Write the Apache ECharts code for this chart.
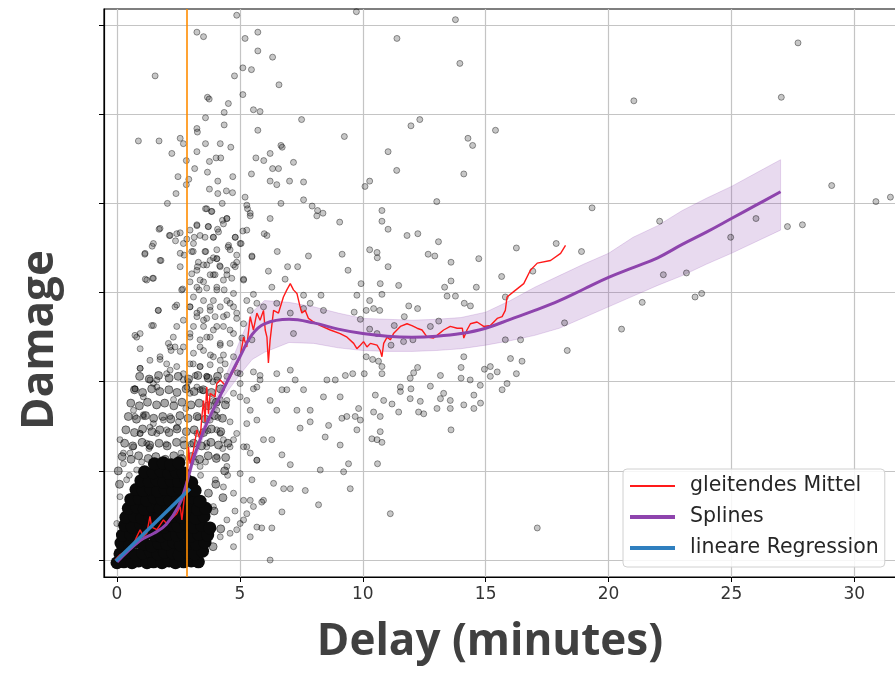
<!DOCTYPE html>
<html>
<head>
<meta charset="utf-8">
<title>Damage vs Delay</title>
<script src="https://cdn.jsdelivr.net/npm/echarts@6.0.0/dist/echarts.min.js"></script>
<style>
  html, body { margin: 0; padding: 0; background: #fff; }
  #chart { width: 895px; height: 683px; }
</style>
</head>
<body>
<div id="chart"></div>
<script>
// tick values
const delayTicks = [0, 5, 10, 15, 20, 25, 30]
const damageTicks = [0, 1, 2, 3, 4, 5, 6]
const cutoffDelay = 2.83

const pointsUpper = [
  [4.87,6.11],[3.25,5.92],[3.52,5.87],[5.21,5.85],[5.73,5.92],[5.73,5.71],[6.33,5.64],[1.55,5.43],[4.78,5.43],[5.12,5.52],
  [5.47,5.50],[6.59,5.33],[3.68,5.19],[3.75,5.17],[4.53,5.12],[5.12,5.22],[4.36,5.02],[5.55,5.05],[5.82,5.03],[3.60,4.96],
  [7.51,4.94],[3.25,4.84],[3.27,4.80],[4.36,4.88],[5.73,4.82],[9.25,4.75],[0.87,4.70],[1.71,4.70],[2.57,4.73],[2.70,4.67],
  [3.60,4.67],[4.20,4.67],[4.63,4.63],[6.67,4.65],[6.72,4.63],[2.23,4.56],[3.25,4.58],[6.23,4.56],[4.03,4.51],[4.22,4.51],
  [5.65,4.51],[5.97,4.48],[7.18,4.46],[2.82,4.48],[3.76,4.47],[11.03,4.58],[3.16,4.39],[3.68,4.35],[6.33,4.39],[6.57,4.39],
  [5.47,4.33],[2.48,4.30],[2.92,4.27],[4.71,4.30],[4.10,4.25],[6.23,4.25],[6.50,4.21],[7.02,4.25],[7.59,4.24],[10.28,4.25],
  [10.09,4.19],[2.82,4.21],[3.76,4.16],[4.45,4.14],[4.70,4.12],[4.10,4.11],[2.40,4.11],[5.21,4.07],[7.59,4.04],[2.05,4.00],
  [3.60,3.94],[3.84,3.91],[4.28,4.00],[5.28,3.98],[5.31,3.94],[6.67,4.00],[7.94,3.97],[8.16,3.92],[8.38,3.89],[8.13,3.86],
  [5.42,3.86],[6.23,3.83],[9.06,3.79],[10.78,3.92],[10.78,3.80],[11.03,3.71],[4.29,3.81],[4.47,3.83],[3.25,3.75],[3.71,3.74],
  [4.09,3.71],[1.71,3.71],[2.13,3.64],[2.57,3.67],[2.97,3.70],[3.14,3.62],[3.58,3.62],[3.92,3.62],[4.81,3.62],[5.12,3.69],
  [5.99,3.66],[6.10,3.64],[2.38,3.58],[2.84,3.60],[1.43,3.52],[3.10,3.46],[3.61,3.46],[4.52,3.51],[4.60,3.48],[5.05,3.55],
  [6.52,3.46],[1.13,3.43],[1.79,3.36],[2.73,3.42],[3.92,3.39],[4.06,3.38],[4.87,3.42],[5.49,3.41],[7.79,3.41],[9.16,3.43],
  [10.28,3.48],[10.58,3.45],[10.59,3.39],[2.57,3.29],[3.27,3.29],[3.65,3.31],[4.18,3.30],[4.81,3.29],[6.16,3.24],[6.94,3.29],
  [7.35,3.29],[9.40,3.25],[11.03,3.29],[1.15,3.15],[1.45,3.16],[3.04,3.21],[3.92,3.20],[3.52,3.12],[4.47,3.20],[5.15,3.15],
  [6.84,3.15],[9.93,3.10],[10.71,3.10],[2.67,3.04],[3.34,3.03],[4.06,3.06],[4.36,3.03],[6.30,3.06],[5.55,2.98],[7.59,2.97],
  [8.30,2.97],[9.76,2.97],[10.78,2.98],[9.74,6.15]
]

// the crowded column just right of the cut-off
const pointsColumn = [
  [3.65,3.94],[3.86,3.91],[4.33,3.77],[4.47,3.83],[3.25,3.76],[3.72,3.74],[4.13,3.68],[3.38,3.64],[3.92,3.62],[4.81,3.62],
  [3.11,3.55],[3.58,3.46],[4.06,3.48],[4.54,3.53],[5.01,3.55],[3.04,3.46],[3.31,3.34],[3.79,3.36],[4.06,3.38],[3.52,3.31],
  [4.20,3.29],[4.74,3.31],[4.47,3.25],[4.87,3.34],[3.25,3.25],[3.79,3.20],[3.99,3.20],[3.38,3.14],[4.33,3.14],[4.67,3.16],
  [2.97,3.12],[3.25,3.06],[3.65,3.05],[4.06,3.03],[4.74,2.99],[2.63,3.03],[3.11,2.95],[3.52,2.91],[3.92,2.91],[4.47,2.91],
  [2.97,2.84],[3.38,2.80],[3.79,2.84],[4.20,2.84],[4.74,2.84],[3.25,2.73],[3.65,2.71],[3.99,2.73],[4.47,2.75],[4.87,2.71],
  [2.70,2.69],[3.11,2.62],[3.52,2.62],[3.92,2.58],[4.33,2.62],[4.74,2.54],[2.97,2.50],[3.38,2.47],[3.79,2.50],[4.20,2.41],
  [4.60,2.43],[2.70,2.39],[3.11,2.32],[3.52,2.35],[3.92,2.28],[4.33,2.30],[4.74,2.28],[2.97,2.20],[3.38,2.17],[3.79,2.19],
  [4.20,2.13],[2.70,2.09],[3.18,2.07],[3.65,2.06],[4.06,2.02],[2.84,1.94],[3.38,1.91],[2.16,2.39],[2.29,2.50],[2.02,2.09],
  [2.43,2.62],[2.36,2.84],[2.57,3.44],[2.70,3.55],[2.43,3.66],[2.16,3.64],[1.75,3.72],[1.48,3.55],[1.75,3.36],[1.14,3.44],
  [1.21,3.14],[1.48,3.16],[1.68,2.80],[1.48,2.63],[0.80,2.50],[0.94,2.37],[1.75,2.28],[2.02,2.20],[0.94,2.15],[1.34,2.02],
  [0.73,1.92],[1.62,1.94],[5.28,3.70],[5.42,3.89],[5.49,3.40],[5.15,3.14],[5.28,2.91],[5.69,2.88],[5.49,2.47],[5.55,2.11],
  [5.82,2.07],[5.01,2.09]
]

const pointsMiddle = [
  [2.43,2.86],[1.68,2.80],[1.41,2.63],[0.94,2.54],[0.73,2.52],[2.09,2.43],[2.36,2.39],[2.57,2.34],[2.97,2.84],[3.25,2.77],
  [3.52,2.69],[3.79,2.80],[4.06,2.62],[4.33,2.73],[4.60,2.88],[4.87,2.77],[5.15,2.65],[5.42,2.80],[4.60,2.58],[3.65,2.50],
  [2.97,2.54],[3.38,2.39],[4.20,2.43],[5.08,2.49],[5.96,2.84],[6.50,2.88],[7.05,2.77],[7.59,2.82],[8.40,2.80],[7.18,2.54],
  [7.86,2.88],[0.94,2.15],[1.34,2.24],[1.75,2.25],[2.16,2.13],[1.62,2.02],[0.73,1.92],[1.07,1.83],[1.48,1.98],[2.43,2.17],
  [2.70,2.02],[2.97,1.87],[3.25,1.94],[3.38,2.17],[3.65,2.06],[3.92,1.79],[4.20,2.24],[4.47,2.06],[4.74,1.87],[5.01,1.98],
  [5.28,1.79],[5.55,1.92],[5.82,2.02],[6.23,1.79],[6.50,2.09],[7.05,2.13],[7.25,2.02],[7.59,1.91],[8.54,2.02],[8.88,2.02],
  [6.50,1.68],[6.91,1.91],[7.86,1.68],[8.40,1.83],[6.71,1.91],[0.73,1.61],[1.07,1.63],[1.34,1.49],[0.94,1.42],[0.26,1.20],
  [0.67,1.27],[1.21,1.31],[1.62,1.42],[1.89,1.57],[2.16,1.61],[2.43,1.49],[2.70,1.35],[3.25,1.42],[3.65,1.31],[4.06,1.46],
  [4.33,1.35],[4.60,1.27],[4.87,1.42],[5.15,1.27],[5.42,1.20],[5.69,1.12],[5.96,1.35],[6.30,1.35],[6.71,1.18],[7.05,1.07],
  [7.45,1.48],[7.86,1.55],[8.27,1.01],[8.47,1.38],[8.61,1.51],[7.32,1.68],[6.37,0.86],[6.78,0.80],[7.05,0.80],[7.66,0.78],
  [5.96,0.67],[5.42,0.67],[5.89,0.65],[5.28,0.52],[6.71,0.54],[5.69,0.37],[5.89,0.36],[6.30,0.36],[8.20,0.62],[6.23,0.00],
  [4.60,0.30],[4.87,0.34],[5.15,0.45],
  [3.79,1.57],[4.06,1.68],[4.47,1.79],[5.01,1.83],[5.42,1.68],[5.69,1.57],[4.20,1.42],[4.74,1.35],[5.28,1.27],[5.69,1.12],
  [4.06,1.16],[4.47,1.05],[5.01,0.97],[5.49,0.90],[4.33,0.82],[4.74,0.75],[5.15,0.67],[5.55,0.60],[3.92,0.60],[4.47,0.45],
  [5.01,0.41],[5.42,0.26],[4.20,0.26],[4.74,0.15],[5.69,1.94],[5.28,1.53],[3.65,1.27],[3.38,1.05],[0.67,1.68],[1.07,1.61],
  [0.12,1.35],[0.53,1.20],[0.94,1.42],[1.48,1.53],[2.02,1.46],[0.26,1.08],[0.80,1.01],[1.34,1.27],[0.39,0.90],[0.12,0.71],
  [-0.01,0.41],[0.12,0.26],
  [3.00,1.30],[3.30,1.60],[3.50,1.90],[3.10,2.20],[2.80,1.70],[2.60,1.20],[3.90,2.00],[4.20,1.80],[4.40,2.20],[3.60,1.10],
  [2.30,1.80],[2.00,1.30],[1.80,1.00],[3.40,0.95],[3.70,1.45],[4.00,0.90],[4.30,1.25],[2.90,2.00],[2.20,2.35],[3.80,2.30],
  [1.00,1.10],[1.30,1.25],[0.50,0.95],[2.50,1.55],[3.20,1.10],[4.10,1.60],[4.60,1.55],[4.90,2.10],[4.50,0.95],[4.80,0.55]
]

const pointsRight = [
  [13.77,6.06],[11.39,5.85],[13.95,5.57],[12.32,4.94],[11.96,4.87],[15.40,4.82],[14.28,4.73],[14.47,4.65],[11.38,4.37],[14.11,4.33],
  [13.01,4.02],[19.33,3.95],[11.80,3.64],[12.24,3.66],[13.08,3.57],[12.66,3.43],[12.93,3.41],[13.59,3.34],[14.72,3.38],[16.25,3.50],
  [17.87,3.55],[18.90,3.46],[15.65,3.18],[11.46,3.08],[13.33,3.06],[13.59,3.13],[14.62,3.06],[13.43,2.96],[13.77,2.96],[16.92,3.24],
  [10.28,2.91],[11.87,2.85],[12.23,2.82],[14.13,2.88],[14.38,2.85],[15.80,2.95],[9.65,2.78],[10.14,2.80],[10.44,2.82],[10.69,2.80],
  [9.90,2.70],[11.69,2.73],[11.28,2.63],[13.09,2.68],[12.75,2.62],[10.28,2.59],[10.58,2.54],[11.66,2.45],[12.04,2.47],[11.15,2.41],
  [15.80,2.47],[16.42,2.47],[18.21,2.66],[18.32,2.35],[10.14,2.28],[10.40,2.25],[10.64,2.23],[10.78,2.17],[10.78,2.09],[14.11,2.28],
  [16.01,2.26],[16.48,2.23],[14.00,2.16],[12.23,2.16],[12.07,2.10],[9.29,2.07],[9.59,2.09],[10.06,2.09],[13.16,2.07],[11.93,2.04],
  [15.19,2.17],[15.47,2.11],[15.87,1.98],[16.25,2.09],[15.67,1.91],[11.53,1.94],[11.53,1.89],[11.96,1.92],[12.75,1.95],[14.00,2.04],
  [14.37,2.02],[14.78,1.96],[14.95,2.14],[15.19,2.06],[9.08,1.83],[10.51,1.85],[10.85,1.79],[11.93,1.81],[12.34,1.78],[13.16,1.81],
  [13.29,1.87],[13.56,1.79],[14.52,1.85],[14.79,1.76],[11.19,1.75],[11.46,1.66],[9.83,1.70],[9.69,1.61],[10.44,1.66],[10.71,1.61],
  [9.90,1.57],[9.76,1.46],[10.71,1.44],[12.27,1.66],[12.48,1.64],[13.02,1.70],[13.56,1.70],[14.11,1.74],[14.52,1.70],[10.58,1.35],
  [10.37,1.36],[10.78,1.32],[9.08,1.29],[9.42,1.08],[10.60,1.08],[9.22,0.99],[9.49,0.80],[11.12,0.52],[17.10,0.36],[13.59,1.46],
  [9.15,1.59],[9.35,1.61],
  [27.71,5.80],[27.03,5.19],[21.03,5.15],[29.08,4.20],[30.88,4.02],[31.47,4.07],[22.08,3.80],[26.00,3.83],[24.97,3.62],[27.28,3.74],
  [27.89,3.76],[22.23,3.20],[23.17,3.22],[23.52,2.95],[23.79,2.99],[21.37,2.89],[20.53,2.59]
]

// heavy overlap between damage 1 and 2
const pointsCrowded = [
  [0.21,1.16],[0.57,1.13],[0.88,1.17],[1.27,1.14],[1.58,1.16],[1.96,1.13],[2.31,1.17],[2.63,1.14],[3.02,1.16],[3.36,1.13],[3.71,1.17],[4.04,1.14],[4.42,1.15],
  [0.31,1.31],[0.64,1.28],[1.02,1.32],[1.33,1.29],[1.71,1.31],[2.04,1.28],[2.42,1.32],[2.74,1.29],[3.12,1.31],[3.44,1.28],[3.82,1.32],[4.13,1.29],[4.51,1.31],
  [0.36,1.46],[0.71,1.43],[1.04,1.47],[1.42,1.44],[1.74,1.46],[2.12,1.43],[2.44,1.47],[2.82,1.44],[3.14,1.46],[3.52,1.43],[3.84,1.47],[4.22,1.44],
  [0.46,1.61],[0.79,1.58],[1.16,1.62],[1.49,1.59],[1.86,1.61],[2.19,1.58],[2.56,1.62],[2.89,1.59],[3.26,1.61],[3.59,1.58],[3.96,1.62],[4.29,1.59],
  [0.56,1.76],[0.91,1.73],[1.24,1.77],[1.61,1.74],[1.94,1.76],[2.31,1.73],[2.64,1.77],[3.01,1.74],[3.34,1.76],[3.71,1.73],[4.04,1.77],[4.41,1.74],
  [0.71,1.91],[1.04,1.88],[1.41,1.92],[1.74,1.89],[2.11,1.91],[2.44,1.88],[2.81,1.92],[3.14,1.89],[3.51,1.91],[3.84,1.88],[4.21,1.92],
  [0.92,2.06],[1.31,2.03],[1.69,2.07],[2.12,2.04],[2.49,2.06],[2.91,2.03],[3.29,2.07],[3.71,2.04],[4.09,2.06],
  [3.91,0.15],[4.22,0.35],[3.95,0.55],[4.31,0.70],[4.02,0.85],[3.72,0.75],[4.38,1.00],[0.10,0.85],[0.05,1.00]
]

// the nearly solid cloud of short delays
const pointsDense = [
  [0.00,-0.03],[0.28,-0.02],[0.61,-0.03],[0.88,-0.01],[1.22,-0.03],[1.49,-0.02],[1.83,-0.03],[2.12,-0.01],[2.38,-0.03],[2.71,-0.02],[3.02,-0.01],[3.31,-0.02],
  [0.12,0.07],[0.43,0.09],[0.77,0.06],[1.04,0.08],[1.36,0.10],[1.66,0.07],[1.93,0.09],[2.27,0.08],[2.53,0.06],[2.86,0.09],[3.17,0.07],[3.48,0.10],
  [0.16,0.19],[0.52,0.17],[0.79,0.20],[1.12,0.18],[1.41,0.16],[1.69,0.19],[2.02,0.18],[2.31,0.20],[2.58,0.17],[2.91,0.19],[3.22,0.18],[3.58,0.20],
  [0.22,0.28],[0.56,0.29],[0.89,0.27],[1.19,0.30],[1.52,0.28],[1.78,0.27],[2.11,0.29],[2.42,0.28],[2.69,0.30],[3.01,0.27],[3.33,0.29],[3.69,0.28],
  [0.31,0.39],[0.62,0.37],[0.96,0.40],[1.28,0.38],[1.61,0.39],[1.92,0.37],[2.21,0.39],[2.49,0.38],[2.82,0.40],[3.12,0.37],[3.44,0.39],[3.78,0.36],
  [0.36,0.48],[0.71,0.49],[1.02,0.47],[1.33,0.50],[1.69,0.48],[2.01,0.47],[2.29,0.49],[2.62,0.48],[2.92,0.50],[3.21,0.47],[3.54,0.49],
  [0.46,0.58],[0.82,0.59],[1.11,0.57],[1.44,0.60],[1.76,0.58],[2.06,0.57],[2.36,0.59],[2.66,0.58],[2.96,0.60],[3.28,0.57],[3.61,0.58],
  [0.56,0.68],[0.91,0.69],[1.21,0.67],[1.52,0.70],[1.84,0.68],[2.16,0.67],[2.46,0.69],[2.76,0.68],[3.06,0.70],[3.38,0.66],
  [0.77,0.79],[1.06,0.78],[1.37,0.80],[1.66,0.77],[1.96,0.79],[2.26,0.78],[2.56,0.80],[2.87,0.77],[3.18,0.78],
  [0.97,0.89],[1.31,0.88],[1.62,0.90],[1.91,0.87],[2.21,0.89],[2.51,0.88],[2.81,0.90],[3.04,0.87],
  [1.12,0.99],[1.47,0.98],[1.79,1.00],[2.11,0.97],[2.41,0.99],[2.69,0.98],
  [1.52,1.08],[1.88,1.09],[2.19,1.07],[2.52,1.09]
]

// gleitendes Mittel
const movingAvg = [
  [-0.08,0.00],[0.12,0.06],[0.39,0.11],[0.66,0.17],[0.80,0.26],[0.94,0.34],[1.07,0.26],[1.21,0.30],[1.34,0.49],[1.41,0.37],
  [1.62,0.34],[1.89,0.45],[2.02,0.41],[2.16,0.45],[2.43,0.52],[2.57,0.60],[2.64,0.45],[2.77,0.78],[2.87,0.97],[2.91,1.27],
  [2.97,1.08],[3.11,1.23],[3.25,1.46],[3.38,1.35],[3.45,1.60],[3.52,1.79],[3.58,1.55],[3.65,1.94],[3.72,1.64],[3.79,1.87],
  [3.99,1.83],[4.06,1.98],[4.20,2.02],[4.40,1.96],[4.60,2.05],[4.80,2.15],[5.01,2.28],[5.15,2.50],[5.28,2.39],[5.42,2.73],
  [5.55,2.58],[5.69,2.77],[5.82,2.69],[5.96,2.80],[6.03,2.58],[6.10,2.50],[6.16,2.21],[6.23,2.47],[6.37,2.80],[6.57,2.77],
  [6.77,2.95],[6.91,3.03],[7.05,3.10],[7.18,3.03],[7.32,2.99],[7.45,2.84],[7.52,2.77],[7.66,2.80],[7.79,2.71],[8.00,2.67],
  [8.27,2.63],[8.68,2.58],[9.08,2.54],[9.36,2.50],[9.63,2.43],[9.76,2.37],[9.90,2.41],[10.03,2.45],[10.17,2.39],[10.31,2.43],
  [10.58,2.41],[10.71,2.35],[10.78,2.28],[10.85,2.43],[10.99,2.50],[11.12,2.47],[11.25,2.54],[11.39,2.58],[11.53,2.62],[11.80,2.65],
  [12.00,2.63],[12.21,2.60],[12.41,2.58],[12.62,2.50],[12.88,2.49],[13.02,2.52],[13.29,2.58],[13.56,2.62],[13.84,2.60],[14.05,2.60],
  [14.11,2.49],[14.24,2.58],[14.38,2.65],[14.65,2.67],[14.92,2.62],[15.19,2.63],[15.47,2.71],[15.67,2.73],[15.80,2.80],[15.87,2.95],
  [16.14,3.01],[16.55,3.10],[16.82,3.25],[17.10,3.33],[17.64,3.36],[18.05,3.44],[18.25,3.53]
]

// Splines + Konfidenzband
const splineX = [0, 0.94, 1.5, 2.0, 2.5, 2.8, 3.1, 3.6, 4.3, 5.0, 5.5, 6.0, 7.0, 8.0, 9.0, 10.0, 11.0, 12.0, 13.0, 14.0, 15.0, 16.0, 17.0, 18.0, 19.0, 20.0, 21.0, 22.0, 23.0, 24.0, 25.0, 26.0, 27.0]
const splineY = [-0.02, 0.22, 0.30, 0.40, 0.60, 0.83, 1.13, 1.50, 1.90, 2.28, 2.53, 2.65, 2.70, 2.66, 2.59, 2.54, 2.51, 2.50, 2.51, 2.54, 2.60, 2.70, 2.80, 2.91, 3.04, 3.17, 3.28, 3.39, 3.54, 3.68, 3.83, 3.98, 4.13]
const bandLow = [-0.05, 0.19, 0.26, 0.36, 0.55, 0.78, 1.07, 1.44, 1.82, 2.08, 2.25, 2.33, 2.44, 2.43, 2.38, 2.35, 2.34, 2.34, 2.35, 2.37, 2.41, 2.46, 2.52, 2.60, 2.72, 2.84, 2.96, 3.08, 3.19, 3.32, 3.44, 3.57, 3.70]
const bandHigh = [0.01, 0.25, 0.34, 0.44, 0.65, 0.88, 1.19, 1.56, 1.98, 2.46, 2.78, 2.91, 2.89, 2.84, 2.77, 2.71, 2.70, 2.69, 2.70, 2.72, 2.78, 2.91, 3.06, 3.19, 3.32, 3.44, 3.62, 3.75, 3.92, 4.06, 4.19, 4.34, 4.49]

// lineare Regression
const regression = [[-0.05, -0.01], [2.97, 0.80]]

const chart = echarts.init(document.getElementById('chart'))

const pointStyle = { color: 'rgba(0,0,0,0.22)', borderColor: 'rgba(0,0,0,0.4)', borderWidth: 1, opacity: 1 }

chart.setOption({
  animation: false,
  grid: {
    left: 104,
    top: 9,
    right: -5,
    bottom: 106,
    show: true,
    borderColor: '#000',
    borderWidth: 1.2,
    outerBoundsMode: 'none'
  },
  legend: {
    left: 623,
    top: 469,
    orient: 'vertical',
    selectedMode: false,
    backgroundColor: 'rgba(255,255,255,0.85)',
    borderColor: '#d0d0d0',
    borderWidth: 1,
    borderRadius: 4,
    padding: [6, 6, 8, 7],
    itemWidth: 45,
    itemHeight: 4,
    itemGap: 9,
    textStyle: {
      fontFamily: 'DejaVu Sans',
      fontSize: 20.5,
      lineHeight: 22,
      color: '#262626',
      padding: [0, 0, 0, 10]
    },
    data: [
      { name: 'gleitendes Mittel', icon: 'path://M0,0h45v2h-45z' },
      { name: 'Splines', icon: 'rect' },
      { name: 'lineare Regression', icon: 'rect' }
    ]
  },
  xAxis: {
    type: 'value',
    min: -0.53,
    max: 31.86,
    axisLine: { show: true, onZero: false, lineStyle: { color: '#000', width: 1.2 } },
    axisTick: { show: true, length: 5, customValues: delayTicks, lineStyle: { color: '#000' } },
    axisLabel: {
      customValues: delayTicks,
      margin: 9,
      color: '#333',
      fontFamily: 'DejaVu Sans',
      fontSize: 17,
      formatter: (v) => (delayTicks.indexOf(v) >= 0 ? String(v) : '')
    },
    splitLine: { show: true, lineStyle: { color: '#c4c4c4', width: 1.2 } }
  },
  yAxis: {
    type: 'value',
    min: -0.19,
    max: 6.18,
    axisLine: { show: true, onZero: false, lineStyle: { color: '#000', width: 1.2 } },
    axisTick: { show: true, length: 5, customValues: damageTicks, lineStyle: { color: '#000' } },
    axisLabel: { show: false },
    splitLine: { show: true, lineStyle: { color: '#c4c4c4', width: 1.2 } }
  },
  graphic: [
    {
      type: 'text',
      x: 40,
      y: 340,
      rotation: Math.PI / 2,
      style: {
        text: 'Damage',
        font: 'bold 44px "Open Sans"',
        fill: '#404040',
        align: 'center',
        verticalAlign: 'middle'
      }
    },
    {
      type: 'text',
      x: 490,
      y: 642,
      style: {
        text: 'Delay (minutes)',
        font: 'bold 44px "Open Sans"',
        fill: '#404040',
        align: 'center',
        verticalAlign: 'middle'
      }
    }
  ],
  series: [
    {
      name: 'Punkte',
      type: 'scatter',
      silent: true,
      symbolSize: 6,
      itemStyle: pointStyle,
      data: pointsUpper.concat(pointsMiddle, pointsRight, pointsColumn)
    },
    {
      name: 'Punkte gedraengt',
      type: 'scatter',
      silent: true,
      symbolSize: 8,
      itemStyle: { color: 'rgba(0,0,0,0.35)', borderColor: 'rgba(0,0,0,0.5)', borderWidth: 1, opacity: 1 },
      data: pointsCrowded
    },
    {
      name: 'Punkte dicht',
      type: 'scatter',
      silent: true,
      symbolSize: 13,
      itemStyle: { color: '#0a0a0a', opacity: 1 },
      data: pointsDense
    },
    {
      // Konfidenzband der Splines
      name: 'Band',
      type: 'custom',
      silent: true,
      data: splineX.map((x, i) => [x, bandLow[i], bandHigh[i]]),
      encode: { x: 0, y: [1, 2] },
      renderItem: function (params, api) {
        if (params.dataIndex !== 0) return
        const pts = []
        for (let i = 0; i < splineX.length; i++) {
          pts.push(api.coord([splineX[i], bandHigh[i]]))
        }
        for (let i = splineX.length - 1; i >= 0; i--) {
          pts.push(api.coord([splineX[i], bandLow[i]]))
        }
        return {
          type: 'polygon',
          shape: { points: pts },
          style: { fill: 'rgba(142,68,173,0.2)', stroke: 'rgba(142,68,173,0.25)', lineWidth: 0.8 }
        }
      }
    },
    {
      name: 'gleitendes Mittel',
      type: 'line',
      color: '#ff1a1a',
      symbol: 'none',
      lineStyle: { color: '#ff1a1a', width: 1.4 },
      data: movingAvg
    },
    {
      name: 'Splines',
      type: 'line',
      color: '#8e44ad',
      symbol: 'none',
      smooth: 0.4,
      lineStyle: { color: '#8e44ad', width: 3 },
      data: splineX.map((x, i) => [x, splineY[i]])
    },
    {
      name: 'lineare Regression',
      type: 'line',
      color: '#2f7fbf',
      symbol: 'none',
      lineStyle: { color: '#2f7fbf', width: 3.5 },
      data: regression,
      markLine: {
        silent: true,
        symbol: 'none',
        label: { show: false },
        lineStyle: { color: '#ff8c00', width: 1.6, type: 'solid' },
        data: [{ xAxis: cutoffDelay }]
      }
    }
  ]
})
</script>
</body>
</html>
